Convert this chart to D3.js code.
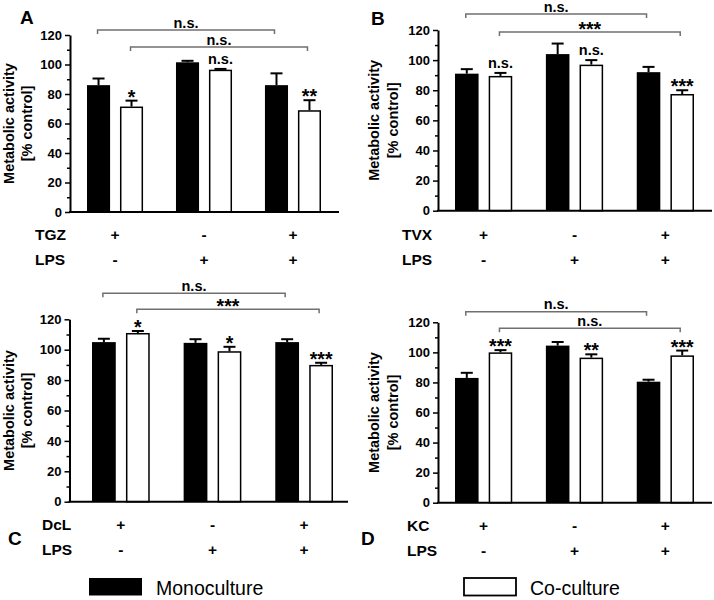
<!DOCTYPE html>
<html><head><meta charset="utf-8">
<script src="https://cdn.jsdelivr.net/npm/d3@7"></script>
<style>
body{margin:0;background:#fff;}
svg{display:block;font-family:"Liberation Sans",Arial,sans-serif;}
</style></head>
<body>
<svg id="c" width="714" height="600"></svg>
<script>
// ---- data ----
const panelIds = ["A","B","C","D"];
const treatments = ["TGZ","TVX","DcL","KC"];
const groups = ["g1","g2","g3"];
const seriesNames = ["Monoculture","Co-culture"];
const drugSigns = ["+","-","+"];
const lpsSigns = ["-","+","+"];
const yTicks = [0,20,40,60,80,100,120];
const yMinorTicks = [10,30,50,70,90,110];

const monoA = [86, 101.5, 86],   monoErrA = [4.5, 1, 8];
const coA   = [71.5, 96.5, 69],  coErrA   = [4, 0.5, 6.8];
const monoB = [91, 104, 92],     monoErrB = [3, 7, 3.5];
const coB   = [89.5, 97, 77.5],  coErrB   = [2, 3, 2.5];
const monoC = [105, 104.5, 105], monoErrC = [2.2, 2.4, 1.9];
const coC   = [111, 99, 90],     coErrC   = [1.3, 2.9, 1.4];
const monoD = [83, 104.5, 80.5], monoErrD = [3.4, 2.4, 1.3];
const coD   = [100, 96.5, 98],   coErrD   = [1.5, 2.2, 3.2];

const sigA = ["*","n.s.","**"],     bracketA = ["n.s.","n.s."];
const sigB = ["n.s.","n.s.","***"], bracketB = ["n.s.","***"];
const sigC = ["*","*","***"],       bracketC = ["n.s.","***"];
const sigD = ["***","**","***"],    bracketD = ["n.s.","n.s."];

const panelData = {
  A:{mono:monoA, monoErr:monoErrA, co:coA, coErr:coErrA, sig:sigA, br:bracketA},
  B:{mono:monoB, monoErr:monoErrB, co:coB, coErr:coErrB, sig:sigB, br:bracketB},
  C:{mono:monoC, monoErr:monoErrC, co:coC, coErr:coErrC, sig:sigC, br:bracketC},
  D:{mono:monoD, monoErr:monoErrD, co:coD, coErr:coErrD, sig:sigD, br:bracketD}
};

// ---- layout ----
const layout = {
  A:{ax:70,  y0:212,   y1:35,    bx0:87,  bx1:321, axEnd:339, brY:[30,47],      lab:[20,24],   tt:[14,32],   rowX:35,  rowY:[240,265]},
  B:{ax:438, y0:210.7, y1:30,    bx0:455, bx1:694, axEnd:712, brY:[14,32],      lab:[371,25],  tt:[379,398], rowX:402, rowY:[240,265]},
  C:{ax:69.5,y0:501.7, y1:319.3, bx0:92,  bx1:333, axEnd:348, brY:[293.3,309.3],lab:[8,545],   tt:[14,32],   rowX:42,  rowY:[530,555]},
  D:{ax:438, y0:502.7, y1:322.3, bx0:455, bx1:694, axEnd:712, brY:[311.7,328.3],lab:[361,545], tt:[379,398], rowX:407, rowY:[530.5,556]}
};

const svg = d3.select("#c");
const bracketColor = "#707070";

panelIds.forEach((pid, pi) => {
  const L = layout[pid], D = panelData[pid];
  const g = svg.append("g");
  const y = d3.scaleLinear().domain([0,120]).range([L.y0, L.y1]);
  const xg = d3.scaleBand().domain(groups).range([L.bx0, L.bx1]).paddingInner(0.37).paddingOuter(0);
  const xs = d3.scaleBand().domain(seriesNames).range([0, xg.bandwidth()]).paddingInner(0.3).paddingOuter(0);

  // y axis
  const yAx = g.append("g").attr("transform", `translate(${L.ax},0)`)
    .call(d3.axisLeft(y).tickValues(yTicks).tickSize(5).tickSizeOuter(0).tickPadding(3));
  yAx.select(".domain").attr("stroke","#000").attr("stroke-width",2);
  yAx.selectAll(".tick line").attr("stroke","#000").attr("stroke-width",1.5);
  yAx.selectAll(".tick text").attr("font-size",13).attr("font-weight","bold").attr("fill","#000")
     .attr("font-family","'Liberation Sans',Arial,sans-serif");
  const yMin = g.append("g").attr("transform", `translate(${L.ax},0)`)
    .call(d3.axisLeft(y).tickValues(yMinorTicks).tickSize(3).tickFormat(""));
  yMin.select(".domain").remove();
  yMin.selectAll(".tick line").attr("stroke","#000").attr("stroke-width",1.5);

  // y title
  const cy = (L.y0 + L.y1)/2;
  g.append("text").attr("transform", `translate(${L.tt[0]},${cy}) rotate(-90)`)
    .attr("text-anchor","middle").attr("font-size",14.5).attr("font-weight","bold").text("Metabolic activity");
  g.append("text").attr("transform", `translate(${L.tt[1]},${cy}) rotate(-90)`)
    .attr("text-anchor","middle").attr("font-size",14.5).attr("font-weight","bold").text("[% control]");

  // bars
  const rows = groups.map((gr,i) => [
    {gr, s:seriesNames[0], v:D.mono[i], e:D.monoErr[i], sig:null},
    {gr, s:seriesNames[1], v:D.co[i],   e:D.coErr[i],   sig:D.sig[i]}
  ]).flat();
  const cx = d => xg(d.gr) + xs(d.s) + xs.bandwidth()/2;

  // error bars (upward only)
  g.selectAll("line.eb").data(rows).join("line")
    .attr("x1",cx).attr("x2",cx).attr("y1",d=>y(d.v)).attr("y2",d=>y(d.v+d.e))
    .attr("stroke","#000").attr("stroke-width",2);
  g.selectAll("line.cap").data(rows).join("line")
    .attr("x1",d=>cx(d)-6).attr("x2",d=>cx(d)+6).attr("y1",d=>y(d.v+d.e)).attr("y2",d=>y(d.v+d.e))
    .attr("stroke","#000").attr("stroke-width",2);

  g.selectAll("rect.bar").data(rows).join("rect")
    .attr("x", d => xg(d.gr) + xs(d.s) + (d.s===seriesNames[1]?0.75:0))
    .attr("width", d => xs.bandwidth() - (d.s===seriesNames[1]?1.5:0))
    .attr("y", d => y(d.v) + (d.s===seriesNames[1]?0.75:0))
    .attr("height", d => y(0) - y(d.v) - (d.s===seriesNames[1]?0.75:0))
    .attr("fill", d => d.s===seriesNames[0] ? "#000" : "#fff")
    .attr("stroke", "#000").attr("stroke-width", d => d.s===seriesNames[0] ? 0 : 1.5);

  // x axis line
  g.append("line").attr("x1",L.ax-1).attr("x2",L.axEnd).attr("y1",L.y0).attr("y2",L.y0)
    .attr("stroke","#000").attr("stroke-width",2);

  // significance above co-culture bars
  rows.filter(d=>d.sig).forEach(d => {
    const top = y(d.v+d.e);
    const isStar = d.sig.indexOf("*")===0;
    g.append("text").attr("x",cx(d)).attr("y", isStar ? top+3 : top-5)
      .attr("text-anchor","middle").attr("font-weight","bold")
      .attr("font-size", isStar ? 19.5 : 14.5).text(d.sig);
  });

  // brackets
  D.br.forEach((lbl,k) => {
    const s = seriesNames[k];
    const xa = xg(groups[0]) + xs(s) + xs.bandwidth()/2 - 1;
    const xb = xg(groups[2]) + xs(s) + xs.bandwidth()/2 - 2;
    const by = L.brY[k];
    g.append("path").attr("d", `M${xa},${by+4}V${by}H${xb}V${by+4}`)
      .attr("fill","none").attr("stroke",bracketColor).attr("stroke-width",1.5);
    const isStar = lbl.indexOf("*")===0;
    g.append("text").attr("x",(xa+xb)/2).attr("y", isStar ? by+4 : by-2.5)
      .attr("text-anchor","middle").attr("font-weight","bold")
      .attr("font-size", isStar ? 19.5 : 14.5).text(lbl);
  });

  // treatment rows
  [[treatments[pi], drugSigns],["LPS", lpsSigns]].forEach((r,ri) => {
    g.append("text").attr("x",L.rowX).attr("y",L.rowY[ri]).attr("font-size",15.5).attr("font-weight","bold").text(r[0]);
    groups.forEach((gr,i) => {
      g.append("text").attr("x", xg(gr)+xg.bandwidth()/2).attr("y",L.rowY[ri])
        .attr("text-anchor","middle").attr("font-size",15.5).attr("font-weight","bold").text(r[1][i]);
    });
  });

  // panel letter
  g.append("text").attr("x",L.lab[0]).attr("y",L.lab[1]).attr("font-size",19).attr("font-weight","bold").text(pid);
});

// legend
const legX = [89, 463];
seriesNames.forEach((s,i) => {
  svg.append("rect").attr("x",legX[i]+(i?1:0)).attr("y",578).attr("width",53-(i?1:0)).attr("height",17.5)
    .attr("fill", i ? "#fff" : "#000").attr("stroke","#000").attr("stroke-width", i?1.8:0);
  svg.append("text").attr("x", legX[i]+67).attr("y",595).attr("font-size",19.5).text(s);
});
</script>
</body></html>
